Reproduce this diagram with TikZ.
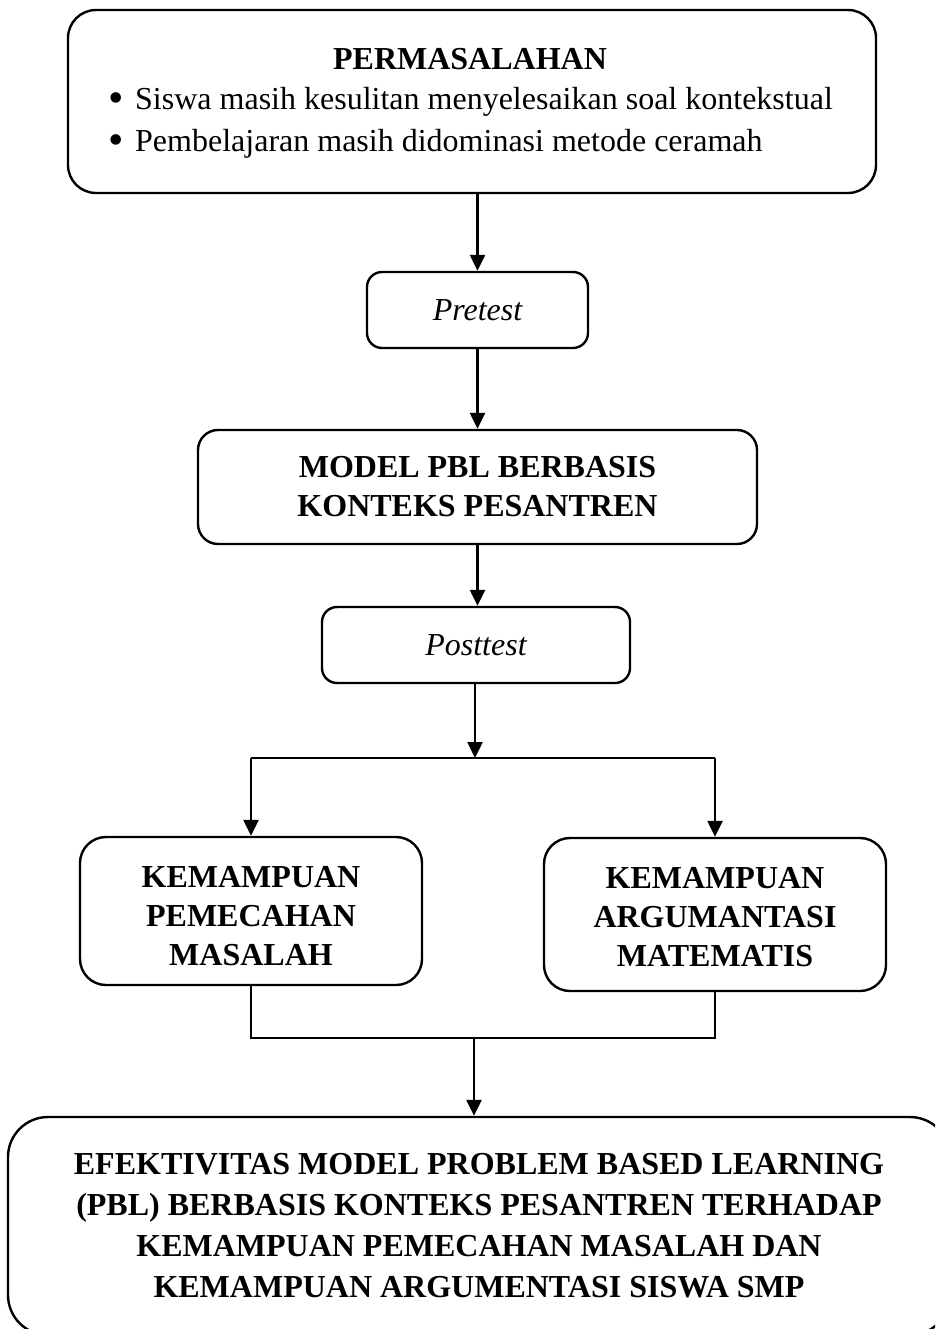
\documentclass[tikz,border=0pt]{standalone}
\usepackage{fontspec}
\setmainfont{Liberation Serif}
\usetikzlibrary{arrows.meta}
\begin{document}
\begin{tikzpicture}[x=1pt,y=-1pt,
  box/.style={draw,line width=2.4pt,rounded corners=#1,inner sep=0pt,align=center,
    font=\fontsize{32}{39}\selectfont\bfseries},
  box/.default=20pt,
  txt/.style={inner sep=0pt,anchor=base,font=\fontsize{32}{39}\selectfont},
  inlbl/.style={inner sep=0pt,align=center,font=\fontsize{32}{39}\selectfont\bfseries},
  arr/.style={line width=2.4pt,-{Triangle[width=15pt,length=16pt]}},
  ln/.style={line width=2.4pt}]
\useasboundingbox (0,0) rectangle (935,1329);
\clip (0,0) rectangle (935,1329);
% top box
\node[box=28pt,minimum width=808pt,minimum height=183pt] (prob) at (472,101.5) {};
\node[txt,font=\fontsize{32}{39}\selectfont\bfseries] (title) at (470,70) {PERMASALAHAN};
\node[txt,anchor=base,font=\fontsize{44}{44}\selectfont] (b1) at (116,113) {•};
\node[txt,anchor=base west] (t1) at (135,110) {Siswa masih kesulitan menyelesaikan soal kontekstual};
\node[txt,anchor=base,font=\fontsize{44}{44}\selectfont] (b2) at (116,155) {•};
\node[txt,anchor=base west] (t2) at (135,152) {Pembelajaran masih didominasi metode ceramah};
% pretest
\node[box=15pt,minimum width=221pt,minimum height=76pt,font=\fontsize{32}{39}\selectfont\itshape] (pre) at (477.5,310) {Pretest};
% model
\node[box=20pt,minimum width=559pt,minimum height=114pt] (model) at (477.5,487) {MODEL PBL BERBASIS\\KONTEKS PESANTREN};
% posttest
\node[box=15pt,minimum width=308pt,minimum height=76pt,font=\fontsize{32}{39}\selectfont\itshape] (post) at (476,645) {Posttest};
% two boxes
\node[box=26pt,minimum width=342pt,minimum height=148pt,
  label={[name=Ltxt,inlbl,yshift=-5pt]center:KEMAMPUAN\\PEMECAHAN\\MASALAH}] (L) at (251,911) {};
\node[box=26pt,minimum width=342pt,minimum height=153pt,
  label={[name=Rtxt,inlbl,yshift=-2.5pt]center:KEMAMPUAN\\ARGUMANTASI\\MATEMATIS}] (R) at (715,914.5) {};
% bottom
\node[box=40pt,minimum width=942pt,minimum height=218pt,font=\fontsize{32}{41}\selectfont\bfseries] (bot) at (479,1226)
  {EFEKTIVITAS MODEL PROBLEM BASED LEARNING\\(PBL) BERBASIS KONTEKS PESANTREN TERHADAP\\KEMAMPUAN PEMECAHAN MASALAH DAN\\KEMAMPUAN ARGUMENTASI SISWA SMP};
\coordinate (split) at (475,758);
\coordinate (merge) at (474,1038);
% connectors
\draw[arr] (pre.north |- prob.south) -- (pre.north);
\draw[arr] (pre.south) -- (model.north);
\draw[arr] (model.south) -- (model.south |- post.north);
\draw[arr] (post.south -| split) -- (split);
\draw[ln] (L.north |- split) -- (R.north |- split);
\draw[arr] (L.north |- split) -- (L.north);
\draw[arr] (R.north |- split) -- (R.north);
\draw[ln] (L.south) -- (L.south |- merge) -- (R.south |- merge) -- (R.south);
\draw[arr] (merge) -- (merge |- bot.north);
\end{tikzpicture}
\end{document}
